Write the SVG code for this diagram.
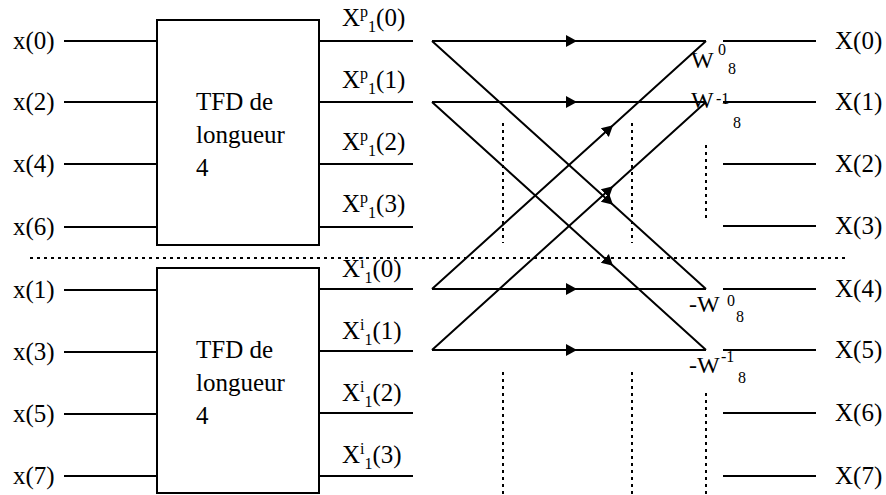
<svg xmlns="http://www.w3.org/2000/svg" width="886" height="495" viewBox="0 0 886 495" font-family="'Liberation Serif', 'Times New Roman', serif">
<style>
.ln{stroke:#000;stroke-width:2;fill:none}
.dot{stroke:#000;stroke-width:2;fill:none;stroke-dasharray:3 4}
.box{stroke:#000;stroke-width:2;fill:#fff}
text{font-family:'Liberation Serif', 'Times New Roman', serif;fill:#000}
.lb{font-size:25px}
.sm{font-size:16px}
.w{font-size:24px}
.ws{font-size:16px}
</style>
<defs>
<marker id="arr" markerUnits="userSpaceOnUse" markerWidth="14" markerHeight="14" refX="11" refY="7" orient="auto">
<path d="M0,1 L11,7 L0,13 z" fill="#000"/>
</marker>
</defs>
<rect width="886" height="495" fill="#fff"/>
<g id="inputs">
<path class="ln" d="M64,41H157M64,102H157M64,164H157M64,227H157M64,290H157M64,352H157M64,414H157M64,476H157"/>
<text class="lb" x="13" y="49">x(0)</text>
<text class="lb" x="13" y="110">x(2)</text>
<text class="lb" x="13" y="172">x(4)</text>
<text class="lb" x="13" y="235">x(6)</text>
<text class="lb" x="13" y="298">x(1)</text>
<text class="lb" x="13" y="360">x(3)</text>
<text class="lb" x="13" y="422">x(5)</text>
<text class="lb" x="13" y="484">x(7)</text>
</g>
<g id="tfd-pair">
<rect class="box" x="157" y="20" width="162" height="225"/>
<text class="lb" x="196" y="110">TFD de</text>
<text class="lb" x="196" y="143">longueur</text>
<text class="lb" x="196" y="176">4</text>
</g>
<g id="tfd-impair">
<rect class="box" x="157" y="268" width="162" height="225"/>
<text class="lb" x="196" y="358">TFD de</text>
<text class="lb" x="196" y="391">longueur</text>
<text class="lb" x="196" y="424">4</text>
</g>
<g id="box-outputs">
<path class="ln" d="M319,41H413M319,102H413M319,164H413M319,227H413M319,289H413M319,351H413M319,413H413M319,476H413"/>
<text class="lb" x="342" y="26">X<tspan class="sm" dy="-9">p</tspan><tspan class="sm" dy="15">1</tspan><tspan dy="-6">(0)</tspan></text>
<text class="lb" x="342" y="88">X<tspan class="sm" dy="-9">p</tspan><tspan class="sm" dy="15">1</tspan><tspan dy="-6">(1)</tspan></text>
<text class="lb" x="342" y="150">X<tspan class="sm" dy="-9">p</tspan><tspan class="sm" dy="15">1</tspan><tspan dy="-6">(2)</tspan></text>
<text class="lb" x="342" y="212">X<tspan class="sm" dy="-9">p</tspan><tspan class="sm" dy="15">1</tspan><tspan dy="-6">(3)</tspan></text>
<text class="lb" x="342" y="277">X<tspan class="sm" dy="-9">i</tspan><tspan class="sm" dy="15">1</tspan><tspan dy="-6">(0)</tspan></text>
<text class="lb" x="342" y="339">X<tspan class="sm" dy="-9">i</tspan><tspan class="sm" dy="15">1</tspan><tspan dy="-6">(1)</tspan></text>
<text class="lb" x="342" y="401">X<tspan class="sm" dy="-9">i</tspan><tspan class="sm" dy="15">1</tspan><tspan dy="-6">(2)</tspan></text>
<text class="lb" x="342" y="463">X<tspan class="sm" dy="-9">i</tspan><tspan class="sm" dy="15">1</tspan><tspan dy="-6">(3)</tspan></text>
</g>
<g id="connectors">
<path class="ln" marker-mid="url(#arr)" d="M432,41 L577,41 L706,41"/>
<path class="ln" marker-mid="url(#arr)" d="M432,102 L577,102 L706,102"/>
<path class="ln" marker-mid="url(#arr)" d="M432,289 L577,289 L706,289"/>
<path class="ln" marker-mid="url(#arr)" d="M432,350 L577,350 L706,350"/>
<path class="ln" marker-mid="url(#arr)" d="M432,41 L613,204.8 L706,289"/>
<path class="ln" marker-mid="url(#arr)" d="M432,102 L613,265.8 L706,350"/>
<path class="ln" marker-mid="url(#arr)" d="M432,289 L613,125.2 L706,41"/>
<path class="ln" marker-mid="url(#arr)" d="M432,350 L613,186.2 L706,102"/>
</g>
<g id="separators">
<path class="dot" d="M30,258H848"/>
<path class="dot" d="M503,123V243M632,123V243M706,145V222"/>
<path class="dot" d="M503,372V495M632,372V495M706,393V495"/>
</g>
<g id="twiddles">
<text class="w" x="691" y="68">W</text><text class="ws" x="718" y="55">0</text><text class="ws" x="728" y="74">8</text>
<text class="w" x="691" y="108">W</text><text class="ws" x="716" y="104">-1</text><text class="ws" x="733" y="128">8</text>
<text class="w" x="689" y="312">-W</text><text class="ws" x="727" y="306">0</text><text class="ws" x="736" y="322">8</text>
<text class="w" x="689" y="373">-W</text><text class="ws" x="721" y="362">-1</text><text class="ws" x="738" y="383">8</text>
</g>
<g id="outputs">
<path class="ln" d="M723,41H816M723,102H816M723,164H816M723,226H816M723,289H816M723,350H816M723,413H816M723,476H816"/>
<text class="lb" x="835" y="49">X(0)</text>
<text class="lb" x="835" y="110">X(1)</text>
<text class="lb" x="835" y="172">X(2)</text>
<text class="lb" x="835" y="234">X(3)</text>
<text class="lb" x="835" y="297">X(4)</text>
<text class="lb" x="835" y="358">X(5)</text>
<text class="lb" x="835" y="421">X(6)</text>
<text class="lb" x="835" y="484">X(7)</text>
</g>
</svg>
